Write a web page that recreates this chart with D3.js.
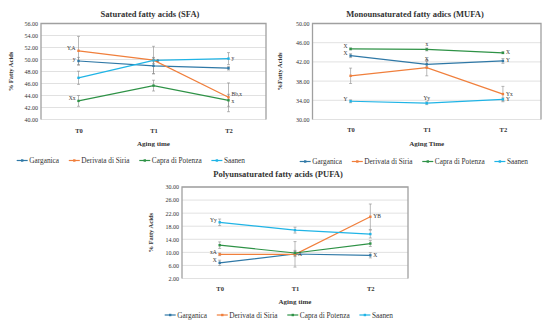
<!DOCTYPE html>
<html>
<head>
<meta charset="utf-8">
<script src="https://cdn.jsdelivr.net/npm/d3@7"></script>
<style>
  body { margin: 0; background: #fff; }
  text { font-family: "Liberation Serif", "DejaVu Serif", serif; fill: #333; }
</style>
</head>
<body>
<div id="chart"></div>
<script>
var width = 550,
  height = 324;

var times = ["T0", "T1", "T2"];
var breeds = ["Garganica", "Derivata di Siria", "Capra di Potenza", "Saanen"];
var colors = ["#2f78a6", "#f07f3c", "#2e9246", "#1fb4e6"];

// SFA
var sfaVals = [
  [49.75, 48.95, 48.55],
  [51.45, 49.9, 43.7],
  [43.1, 45.65, 43.2],
  [46.95, 49.85, 50.15]
];
var sfaErr = [
  [0.6, 1.3, 0.3],
  [2.4, 2.3, 2.4],
  [0.9, 0.9, 1.0],
  [1.1, 0.5, 1.0]
];
var sfaLetters = [
  ["y", "", ""],
  ["Y,A", "a", "Bb,x"],
  ["Xx", "", "x"],
  ["", "", "y"]
];
var sfaTicks = [40, 42, 44, 46, 48, 50, 52, 54, 56];

// MUFA
var mufaVals = [
  [43.3, 41.5, 42.2],
  [39.1, 40.8, 35.3],
  [44.7, 44.6, 43.9],
  [33.8, 33.4, 34.2]
];
var mufaErr = [
  [0.4, 0.6, 0.5],
  [1.6, 1.7, 1.6],
  [0.2, 0.3, 0.2],
  [0.3, 0.3, 0.3]
];
var mufaLetters = [
  ["X", "X", "Y"],
  ["", "", "Yx"],
  ["X", "x", "X"],
  ["Y", "Yy", "Y"]
];
var mufaTicks = [30, 34, 38, 42, 46, 50];

// PUFA
var pufaVals = [
  [6.8, 9.5, 9.1],
  [9.4, 9.4, 20.9],
  [12.2, 9.8, 12.7],
  [19.2, 16.8, 15.6]
];
var pufaErr = [
  [0.8, 0.8, 0.8],
  [0.4, 3.9, 3.9],
  [1.0, 0.8, 0.9],
  [1.0, 0.9, 1.2]
];
var pufaLetters = [
  ["X", "", "X"],
  ["xA", "A", "YB"],
  ["", "", ""],
  ["Yy", "", ""]
];
var pufaTicks = [2, 6, 10, 14, 18, 22, 26, 30];

var svg = d3.select("#chart")
  .append("svg")
  .attr("width", width)
  .attr("height", height);

function drawPanel(p) {
  var g = svg.append("g");

  var x = d3.scalePoint()
    .domain(times)
    .range([p.x0, p.x1])
    .padding(0.5);

  var y = d3.scaleLinear()
    .domain(d3.extent(p.ticks))
    .range([p.y1, p.y0]);

  // gridlines
  g.selectAll(".grid")
    .data(p.ticks)
    .enter().append("line")
    .attr("x1", p.x0)
    .attr("x2", p.x1)
    .attr("y1", function (d) { return y(d); })
    .attr("y2", function (d) { return y(d); })
    .attr("stroke", "#d9d9d9")
    .attr("stroke-width", 0.8);

  // plot frame
  g.append("path")
    .attr("d", "M" + p.x0 + "," + p.y1 + "V" + p.y0 + "H" + p.x1 + "V" + p.y1)
    .attr("fill", "none")
    .attr("stroke", "#a0a0a0")
    .attr("stroke-width", 1.3);

  // y axis labels
  var yAxis = d3.axisLeft(y)
    .tickValues(p.ticks)
    .tickSize(0)
    .tickPadding(3)
    .tickFormat(d3.format(".2f"));
  var ya = g.append("g")
    .attr("transform", "translate(" + p.x0 + ",0)")
    .call(yAxis);
  ya.select(".domain").remove();
  ya.selectAll("text")
    .style("font-family", "Liberation Serif, serif")
    .style("font-size", "6px")
    .attr("fill", "#555");

  // x axis labels
  var xAxis = d3.axisBottom(x).tickSize(0).tickPadding(0);
  var xa = g.append("g")
    .attr("transform", "translate(0," + p.xLabY + ")")
    .call(xAxis);
  xa.select(".domain").remove();
  xa.selectAll("text")
    .attr("dy", "0.35em")
    .style("font-family", "Liberation Serif, serif")
    .style("font-size", "6.5px")
    .style("font-weight", "bold")
    .attr("fill", "#333");

  // titles
  g.append("text")
    .attr("x", p.titleX)
    .attr("y", p.titleY)
    .attr("text-anchor", "middle")
    .style("font-size", "8.5px")
    .style("font-weight", "bold")
    .text(p.title);

  g.append("text")
    .attr("x", (p.x0 + p.x1) / 2)
    .attr("y", p.xTitleY)
    .attr("dy", "0.35em")
    .attr("text-anchor", "middle")
    .style("font-size", "7px")
    .style("font-weight", "bold")
    .text(p.xTitle);

  g.append("text")
    .attr("transform", "translate(" + p.yTitleX + "," + (p.y0 + p.y1) / 2 + ") rotate(-90)")
    .attr("text-anchor", "middle")
    .style("font-size", "6.5px")
    .style("font-weight", "bold")
    .text(p.yTitle);

  var line = d3.line()
    .x(function (d, i) { return x(times[i]); })
    .y(function (d) { return y(d); });

  p.vals.forEach(function (series, s) {
    g.append("path")
      .datum(series)
      .attr("d", line)
      .attr("fill", "none")
      .attr("stroke", colors[s])
      .attr("stroke-width", 1.2);
  });

  // error bars
  p.vals.forEach(function (series, s) {
    series.forEach(function (v, i) {
      var e = p.err[s][i];
      var cx = x(times[i]);
      var eg = g.append("g").attr("stroke", "#8c8c8c").attr("stroke-width", 0.6);
      eg.append("line").attr("x1", cx).attr("x2", cx).attr("y1", y(v - e)).attr("y2", y(v + e));
      eg.append("line").attr("x1", cx - 1.5).attr("x2", cx + 1.5).attr("y1", y(v - e)).attr("y2", y(v - e));
      eg.append("line").attr("x1", cx - 1.5).attr("x2", cx + 1.5).attr("y1", y(v + e)).attr("y2", y(v + e));
    });
  });

  // markers
  p.vals.forEach(function (series, s) {
    g.selectAll(".m" + s)
      .data(series)
      .enter().append("rect")
      .attr("x", function (d, i) { return x(times[i]) - 1.2; })
      .attr("y", function (d) { return y(d) - 1.2; })
      .attr("width", 2.4)
      .attr("height", 2.4)
      .attr("fill", colors[s]);
  });

  // significance letters
  var nudge = p.nudge || {};
  p.letters.forEach(function (row, s) {
    row.forEach(function (t, i) {
      if (!t) return;
      var cx = x(times[i]), cy = y(p.vals[s][i]) + (nudge[s + "," + i] || 0);
      var pos = p.letterPos[i];
      var tx = g.append("text")
        .style("font-size", "5.5px")
        .attr("fill", "#444")
        .text(t);
      if (pos == "left") {
        tx.attr("x", cx - 3).attr("y", cy - 0.5).attr("text-anchor", "end");
      } else if (pos == "above") {
        tx.attr("x", cx).attr("y", cy - 3).attr("text-anchor", "middle");
      } else {
        tx.attr("x", cx + 3).attr("y", cy + 1.5).attr("text-anchor", "start");
      }
    });
  });

  // legend
  var lg = g.append("g");
  var items = lg.selectAll(".li")
    .data(breeds)
    .enter().append("g");
  items.append("line")
    .attr("x1", 0).attr("x2", 11)
    .attr("y1", 0).attr("y2", 0)
    .attr("stroke", function (d, i) { return colors[i]; })
    .attr("stroke-width", 1.2);
  items.append("rect")
    .attr("x", 4.3).attr("y", -1.2)
    .attr("width", 2.4).attr("height", 2.4)
    .attr("fill", function (d, i) { return colors[i]; });
  items.append("text")
    .attr("x", 12.5)
    .attr("dy", "0.35em")
    .style("font-size", "7.3px")
    .attr("fill", "#444")
    .text(function (d) { return d; });
  var offs = [], cur = 0;
  items.each(function () {
    offs.push(cur);
    cur += this.getBBox().width + 9;
  });
  cur -= 9;
  items.attr("transform", function (d, i) {
    return "translate(" + (p.legX - cur / 2 + offs[i]) + "," + p.legY + ")";
  });
}

drawPanel({
  x0: 41, x1: 266, y0: 23.5, y1: 119.5,
  ticks: sfaTicks, vals: sfaVals, err: sfaErr, letters: sfaLetters,
  letterPos: ["left", "right", "right"],
  nudge: { "1,2": -2.8, "2,2": 1.5 },
  title: "Saturated fatty acids (SFA)", titleX: 150, titleY: 17,
  xTitle: "Aging time", xTitleY: 144, xLabY: 131,
  yTitle: "% Fatty Acids", yTitleX: 13,
  legX: 131, legY: 160.5
});

drawPanel({
  x0: 312.5, x1: 541, y0: 23.5, y1: 119.5,
  ticks: mufaTicks, vals: mufaVals, err: mufaErr, letters: mufaLetters,
  letterPos: ["left", "above", "right"],
  title: "Monounsaturated fatty adics (MUFA)", titleX: 415, titleY: 17,
  xTitle: "Aging Time", xTitleY: 143.5, xLabY: 130,
  yTitle: "%Fatty Acids", yTitleX: 282,
  legX: 414, legY: 161.5
});

drawPanel({
  x0: 182, x1: 408, y0: 187, y1: 278.5,
  ticks: pufaTicks, vals: pufaVals, err: pufaErr, letters: pufaLetters,
  letterPos: ["left", "right", "right"],
  title: "Polyunsaturated fatty acids (PUFA)", titleX: 278, titleY: 177,
  xTitle: "Aging time", xTitleY: 301.5, xLabY: 288.5,
  yTitle: "% Fatty Acids", yTitleX: 153,
  legX: 279, legY: 315
});
</script>
</body>
</html>
